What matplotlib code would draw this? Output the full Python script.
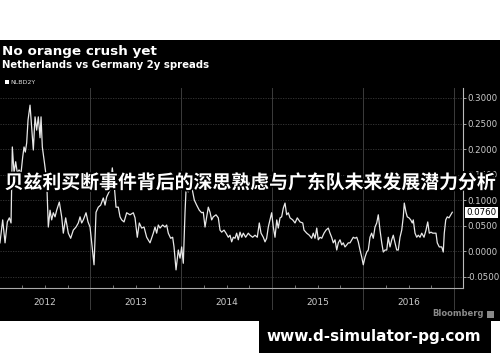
import matplotlib
matplotlib.use('Agg')
import matplotlib.pyplot as plt
import matplotlib.patheffects as pe
from matplotlib.patches import Rectangle

# Spread NL vs DE 2y (ano decimal, pontos percentuais)
anos = [2012.005, 2012.035, 2012.061, 2012.086, 2012.108, 2012.127, 2012.141, 2012.160, 2012.178, 2012.196,
        2012.215, 2012.237, 2012.255, 2012.270, 2012.284, 2012.299, 2012.314, 2012.336, 2012.354, 2012.372,
        2012.391, 2012.409, 2012.427, 2012.446, 2012.457, 2012.471, 2012.493, 2012.519, 2012.537, 2012.556,
        2012.574, 2012.592, 2012.611, 2012.629, 2012.658, 2012.684, 2012.702, 2012.728, 2012.757, 2012.783,
        2012.812, 2012.842, 2012.867, 2012.886, 2012.904, 2012.922, 2012.952, 2012.974, 2012.996, 2013.014,
        2013.040, 2013.062, 2013.087, 2013.113, 2013.142, 2013.161, 2013.179, 2013.216, 2013.241, 2013.260,
        2013.282, 2013.307, 2013.326, 2013.344, 2013.370, 2013.399, 2013.436, 2013.472, 2013.491, 2013.516,
        2013.538, 2013.564, 2013.590, 2013.619, 2013.656, 2013.692, 2013.711, 2013.729, 2013.747, 2013.766,
        2013.795, 2013.821, 2013.839, 2013.857, 2013.883, 2013.905, 2013.920, 2013.942, 2013.967, 2013.986,
        2014.004, 2014.022, 2014.041, 2014.052, 2014.077, 2014.096, 2014.121, 2014.143, 2014.169, 2014.198,
        2014.224, 2014.242, 2014.261, 2014.279, 2014.297, 2014.316, 2014.334, 2014.352, 2014.382, 2014.407,
        2014.426, 2014.444, 2014.470, 2014.492, 2014.517, 2014.536, 2014.554, 2014.572, 2014.591, 2014.609,
        2014.627, 2014.646, 2014.665, 2014.682, 2014.708, 2014.737, 2014.756, 2014.785, 2014.811, 2014.836,
        2014.858, 2014.877, 2014.902, 2014.921, 2014.939, 2014.957, 2014.976, 2014.994, 2015.012, 2015.031,
        2015.050, 2015.067, 2015.086, 2015.104, 2015.122, 2015.141, 2015.159, 2015.177, 2015.196, 2015.226,
        2015.251, 2015.276, 2015.306, 2015.336, 2015.350, 2015.380, 2015.408, 2015.434, 2015.452, 2015.471,
        2015.490, 2015.507, 2015.526, 2015.545, 2015.570, 2015.592, 2015.617, 2015.636, 2015.654, 2015.672,
        2015.691, 2015.710, 2015.727, 2015.746, 2015.765, 2015.782, 2015.801, 2015.820, 2015.837, 2015.856,
        2015.875, 2015.892, 2015.911, 2015.930, 2015.947, 2015.966, 2015.985, 2016.002, 2016.021, 2016.040,
        2016.057, 2016.076, 2016.094, 2016.112, 2016.131, 2016.150, 2016.167, 2016.186, 2016.205, 2016.222,
        2016.241, 2016.260, 2016.277, 2016.296, 2016.315, 2016.332, 2016.351, 2016.370, 2016.387, 2016.406,
        2016.425, 2016.442, 2016.453, 2016.472, 2016.486, 2016.505, 2016.524, 2016.541, 2016.552, 2016.571,
        2016.590, 2016.607, 2016.626, 2016.645, 2016.670, 2016.692, 2016.711, 2016.728, 2016.747, 2016.766,
        2016.783, 2016.802, 2016.816, 2016.838, 2016.865, 2016.882, 2016.893, 2016.909, 2016.926, 2016.945,
        2016.964, 2016.981]
spread = [0.016, 0.061, 0.016, 0.057, 0.065, 0.055, 0.204, 0.153, 0.175, 0.153,
          0.159, 0.153, 0.184, 0.204, 0.194, 0.212, 0.257, 0.286, 0.243, 0.198,
          0.263, 0.237, 0.263, 0.222, 0.263, 0.204, 0.175, 0.139, 0.047, 0.080,
          0.061, 0.075, 0.067, 0.080, 0.096, 0.067, 0.035, 0.065, 0.035, 0.025,
          0.041, 0.047, 0.055, 0.067, 0.055, 0.061, 0.075, 0.057, 0.047, 0.016,
          -0.027, 0.076, 0.086, 0.090, 0.104, 0.090, 0.106, 0.120, 0.163, 0.133,
          0.086, 0.086, 0.067, 0.061, 0.057, 0.075, 0.071, 0.075, 0.065, 0.027,
          0.055, 0.045, 0.047, 0.027, 0.016, 0.035, 0.047, 0.035, 0.051, 0.045,
          0.051, 0.047, 0.051, 0.035, 0.025, 0.027, 0.008, -0.037, 0.002, -0.014,
          0.008, -0.024, 0.076, 0.120, 0.116, 0.125, 0.120, 0.100, 0.090, 0.080,
          0.075, 0.076, 0.047, 0.067, 0.086, 0.076, 0.061, 0.067, 0.071, 0.065,
          0.041, 0.037, 0.041, 0.035, 0.027, 0.031, 0.018, 0.027, 0.025, 0.035,
          0.022, 0.037, 0.027, 0.035, 0.027, 0.035, 0.031, 0.027, 0.031, 0.027,
          0.055, 0.035, 0.027, 0.018, 0.025, 0.047, 0.061, 0.075, 0.047, 0.027,
          0.061, 0.045, 0.065, 0.067, 0.084, 0.094, 0.071, 0.075, 0.065, 0.061,
          0.055, 0.065, 0.057, 0.055, 0.041, 0.035, 0.031, 0.025, 0.035, 0.025,
          0.045, 0.022, 0.027, 0.025, 0.035, 0.041, 0.045, 0.035, 0.027, 0.016,
          0.022, 0.002, 0.016, 0.022, 0.012, 0.016, 0.008, 0.012, 0.016, 0.016,
          0.022, 0.027, 0.025, 0.027, 0.018, 0.002, -0.012, -0.027, -0.012, -0.002,
          0.002, 0.027, 0.035, 0.025, 0.047, 0.055, 0.071, 0.041, 0.016, -0.002,
          0.002, 0.002, 0.027, 0.008, 0.022, 0.031, 0.016, 0.002, 0.002, 0.027,
          0.041, 0.067, 0.094, 0.076, 0.067, 0.065, 0.061, 0.055, 0.061, 0.035,
          0.027, 0.031, 0.027, 0.035, 0.027, 0.041, 0.057, 0.035, 0.037, 0.035,
          0.035, 0.035, 0.016, 0.008, 0.008, -0.002, 0.035, 0.061, 0.067, 0.065,
          0.071, 0.076]

anos_rotulo = [2012, 2013, 2014, 2015, 2016]
divisoes = [2013, 2014, 2015, 2016, 2017]
yticks = [-0.05, 0.0, 0.05, 0.10, 0.15, 0.20, 0.25, 0.30]
ultimo_valor = 0.0760

W, H = 500, 362
fig = plt.figure(figsize=(W / 100, H / 100), dpi=100, facecolor='white')

# fundo preto do gráfico + caixa da marca d'água
fig.add_artist(Rectangle((0, 1 - 321 / H), 1, (321 - 40) / H, transform=fig.transFigure,
                         facecolor='black', edgecolor='none', zorder=0))
fig.add_artist(Rectangle((259 / W, 1 - 353 / H), (491 - 259) / W, 34 / H, transform=fig.transFigure,
                         facecolor='black', edgecolor='none', zorder=0))

ax = fig.add_axes([0, 1 - 288 / H, 463 / W, 200 / H])
ax.set_facecolor('black')
ax.patch.set_alpha(0)
ax.plot(anos, spread, color='#e8e8e8', linewidth=0.9, zorder=3)
ax.set_xlim(2012.0055, 2017.099)
ax.set_ylim(-0.0725, 0.3196)

# grade
for v in yticks:
    ax.axhline(v, color='#3a3a3a', linewidth=0.6, linestyle=(0, (1.5, 1.5)), zorder=1)
for d in divisoes:
    ax.axvline(d, color='#3c3c3c', linewidth=0.7, zorder=1)
    ax.plot([d, d], [-0.0725, -0.114], color='#3c3c3c', linewidth=0.7, clip_on=False)

for s in ['top', 'left']:
    ax.spines[s].set_visible(False)
ax.spines['right'].set_color('#bbbbbb')
ax.spines['bottom'].set_color('#aaaaaa')
ax.spines['right'].set_linewidth(0.8)
ax.spines['bottom'].set_linewidth(0.8)

ax.yaxis.tick_right()
ax.set_yticks(yticks)
ax.set_yticklabels(['%.4f' % v for v in yticks])
ax.tick_params(axis='y', colors='#bbbbbb', labelcolor='#cccccc', labelsize=6.2, length=2, pad=0.8, width=0.6)

quartos = [a + q for a in range(2012, 2017) for q in (0.25, 0.5, 0.75)]
ax.set_xticks(quartos)
ax.set_xticklabels([])
ax.tick_params(axis='x', colors='#888888', direction='in', length=2, width=0.6)
for a in anos_rotulo:
    ax.text(a + 0.5, -0.1, str(a), ha='center', va='center', color='#cccccc', fontsize=6.5)

ax.annotate('%.4f' % ultimo_valor, xy=(1.0, ultimo_valor), xycoords=('axes fraction', 'data'),
            xytext=(2.5, 0), textcoords='offset points', va='center', ha='left', fontsize=6.2,
            color='black', bbox=dict(boxstyle='square,pad=0.12', facecolor='white', edgecolor='none'))

# títulos
fig.text(2 / W, 1 - 51 / H, 'No orange crush yet', color='white', fontsize=9.7,
         fontweight='bold', va='center', ha='left')
fig.text(2 / W, 1 - 64.5 / H, 'Netherlands vs Germany 2y spreads', color='white', fontsize=7.3,
         fontweight='bold', va='center', ha='left')
fig.add_artist(Rectangle((5 / W, 1 - 84 / H), 4 / W, 4 / H, transform=fig.transFigure,
                         facecolor='white', edgecolor='none'))
fig.text(10 / W, 1 - 82 / H, 'NLBD2Y', color='#dddddd', fontsize=4.5, va='center', ha='left')

fig.text(484 / W, 1 - 314 / H, 'Bloomberg', color='#8a8a8a', fontsize=6, fontweight='bold',
         va='center', ha='right')
fig.add_artist(Rectangle((487 / W, 1 - 317.5 / H), 7 / W, 7 / H, transform=fig.transFigure,
                         facecolor='#8a8a8a', edgecolor='none'))

# título sobreposto em chinês
fig.text(0.5, 1 - 183 / H, '贝兹利买断事件背后的深思熟虑与广东队未来发展潜力分析', color='white',
         fontsize=13.6, fontweight='bold', ha='center', va='center',
         family=['Noto Sans CJK SC', 'DejaVu Sans'],
         path_effects=[pe.withStroke(linewidth=2.5, foreground='black')], zorder=10)

# marca d'água
fig.text(374 / W, 1 - 337 / H, 'www.d-simulator-pg.com', color='white', fontsize=11,
         fontweight='bold', ha='center', va='center')

fig.savefig('out.png', dpi=100, facecolor='white')
